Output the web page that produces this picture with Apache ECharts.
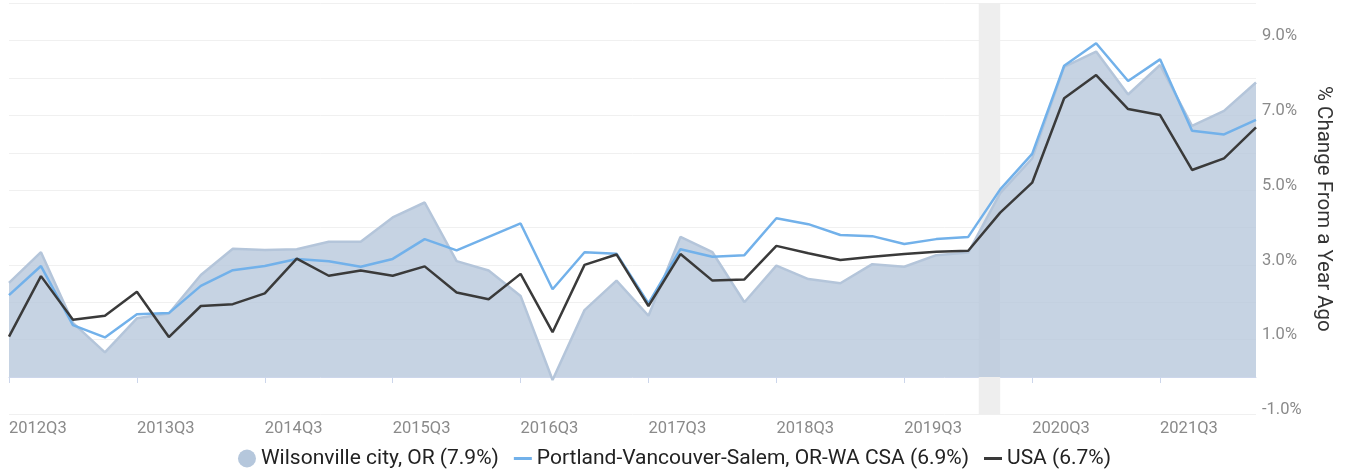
<!DOCTYPE html>
<html>
<head>
<meta charset="utf-8">
<script src="https://cdn.jsdelivr.net/npm/echarts@6/dist/echarts.min.js"></script>
<style>
  html, body { margin: 0; padding: 0; background: #ffffff; }
  #chart { width: 1349px; height: 471px; }
</style>
</head>
<body>
<div id="chart"></div>
<script>
// ---- data ----
const quarters = [
  '2012Q3','2012Q4','2013Q1','2013Q2','2013Q3','2013Q4','2014Q1','2014Q2',
  '2014Q3','2014Q4','2015Q1','2015Q2','2015Q3','2015Q4','2016Q1','2016Q2',
  '2016Q3','2016Q4','2017Q1','2017Q2','2017Q3','2017Q4','2018Q1','2018Q2',
  '2018Q3','2018Q4','2019Q1','2019Q2','2019Q3','2019Q4','2020Q1','2020Q2',
  '2020Q3','2020Q4','2021Q1','2021Q2','2021Q3','2021Q4','2022Q1','2022Q2'
];
const wilsonville = [2.52, 3.34, 1.45, 0.66, 1.57, 1.70, 2.73, 3.43, 3.40, 3.42,
                     3.62, 3.62, 4.27, 4.67, 3.10, 2.85, 2.17, -0.08, 1.79, 2.58,
                     1.64, 3.75, 3.34, 2.00, 2.98, 2.62, 2.51, 3.02, 2.95, 3.26,
                     3.33, 4.92, 5.85, 8.30, 8.71, 7.56, 8.35, 6.72, 7.12, 7.88];
const portland = [2.19, 2.97, 1.39, 1.06, 1.68, 1.71, 2.44, 2.86, 2.97, 3.16,
                  3.10, 2.95, 3.16, 3.69, 3.39, 3.75, 4.11, 2.35, 3.34, 3.30,
                  1.97, 3.42, 3.22, 3.26, 4.25, 4.09, 3.80, 3.77, 3.56, 3.69,
                  3.75, 5.02, 5.97, 8.33, 8.93, 7.92, 8.50, 6.59, 6.49, 6.88];
const usa = [1.08, 2.70, 1.53, 1.64, 2.28, 1.07, 1.90, 1.95, 2.24, 3.17,
             2.71, 2.85, 2.71, 2.96, 2.26, 2.08, 2.76, 1.20, 3.00, 3.28,
             1.90, 3.29, 2.58, 2.61, 3.51, 3.31, 3.13, 3.22, 3.29, 3.35,
             3.38, 4.40, 5.20, 7.46, 8.08, 7.17, 7.01, 5.54, 5.85, 6.68];
const seriesNames = ['Wilsonville city, OR (7.9%)', 'Portland-Vancouver-Salem, OR-WA CSA (6.9%)', 'USA (6.7%)'];
const xTickQuarters = ['2012Q3','2013Q3','2014Q3','2015Q3','2016Q3','2017Q3','2018Q3','2019Q3','2020Q3','2021Q3'];
const yTickLabels = ['-1.0%', '1.0%', '3.0%', '5.0%', '7.0%', '9.0%'];
const recession = [30.33, 31.0]; // Feb 2020 .. end of 2020Q2, in quarter-index units

// ---- chart ----
const toPairs = arr => arr.map((v, i) => [i, v]);
const xTickIdx = xTickQuarters.map(q => quarters.indexOf(q));
const lineIcon = 'path://M0,0M18,18M0,7.5L18,7.5L18,10.5L0,10.5Z';

const chart = echarts.init(document.getElementById('chart'), null, { renderer: 'canvas' });
chart.setOption({
  animation: false,
  backgroundColor: '#ffffff',
  textStyle: { fontFamily: 'Roboto' },
  grid: { left: 9, right: 93, top: 3.3, bottom: 56.6, containLabel: false },
  legend: {
    left: 'center', top: 443,
    itemWidth: 18, itemHeight: 18, itemGap: 15,
    textStyle: { fontFamily: 'Roboto', fontSize: 21, color: '#222' },
    data: [
      { name: seriesNames[0], icon: 'circle' },
      { name: seriesNames[1], icon: lineIcon },
      { name: seriesNames[2], icon: lineIcon }
    ]
  },
  xAxis: {
    type: 'value', min: 0, max: quarters.length - 1,
    splitLine: { show: false },
    axisLine: { show: true, lineStyle: { color: '#ccd6eb', width: 1 } },
    axisTick: { show: true, length: 6, lineStyle: { color: '#ccd6eb' }, customValues: xTickIdx },
    axisLabel: {
      customValues: xTickIdx,
      formatter: v => quarters[v] || '',
      align: 'left', margin: 6,
      color: '#8a8a8a', fontSize: 16.5, fontFamily: 'Roboto'
    }
  },
  yAxis: {
    type: 'value', position: 'right', min: -1, max: 10, interval: 1,
    axisLine: { show: false }, axisTick: { show: false },
    splitLine: { lineStyle: { color: '#f0f0f0', width: 1 } },
    axisLabel: {
      formatter: v => { const s = v.toFixed(1) + '%'; return yTickLabels.indexOf(s) >= 0 ? s : ''; },
      margin: 6, color: '#8a8a8a', fontSize: 16.5, fontFamily: 'Roboto',
      verticalAlign: 'bottom', lineHeight: 9
    },
    name: '% Change From a Year Ago',
    nameLocation: 'middle', nameRotate: -90, nameGap: 57,
    nameTextStyle: { fontSize: 20.5, color: '#333', fontFamily: 'Roboto' }
  },
  series: [
    {
      name: 'recession', type: 'line', data: [], z: 0, silent: true,
      markArea: {
        silent: true,
        itemStyle: { color: '#eeeeee' },
        data: [[{ xAxis: recession[0] }, { xAxis: recession[1] }]]
      }
    },
    {
      name: seriesNames[0], type: 'line', data: toPairs(wilsonville), z: 2,
      symbol: 'none', color: '#b5c7dc',
      lineStyle: { color: '#b4c5da', width: 2.5 },
      areaStyle: { color: '#b4c5da', opacity: 0.76 }
    },
    {
      name: seriesNames[1], type: 'line', data: toPairs(portland), z: 3,
      symbol: 'none', color: '#72b1ea',
      lineStyle: { color: '#72b1ea', width: 2.5 }
    },
    {
      name: seriesNames[2], type: 'line', data: toPairs(usa), z: 4,
      symbol: 'none', color: '#3a3a3a',
      lineStyle: { color: '#3a3a3a', width: 2.5 }
    }
  ]
});
</script>
</body>
</html>
